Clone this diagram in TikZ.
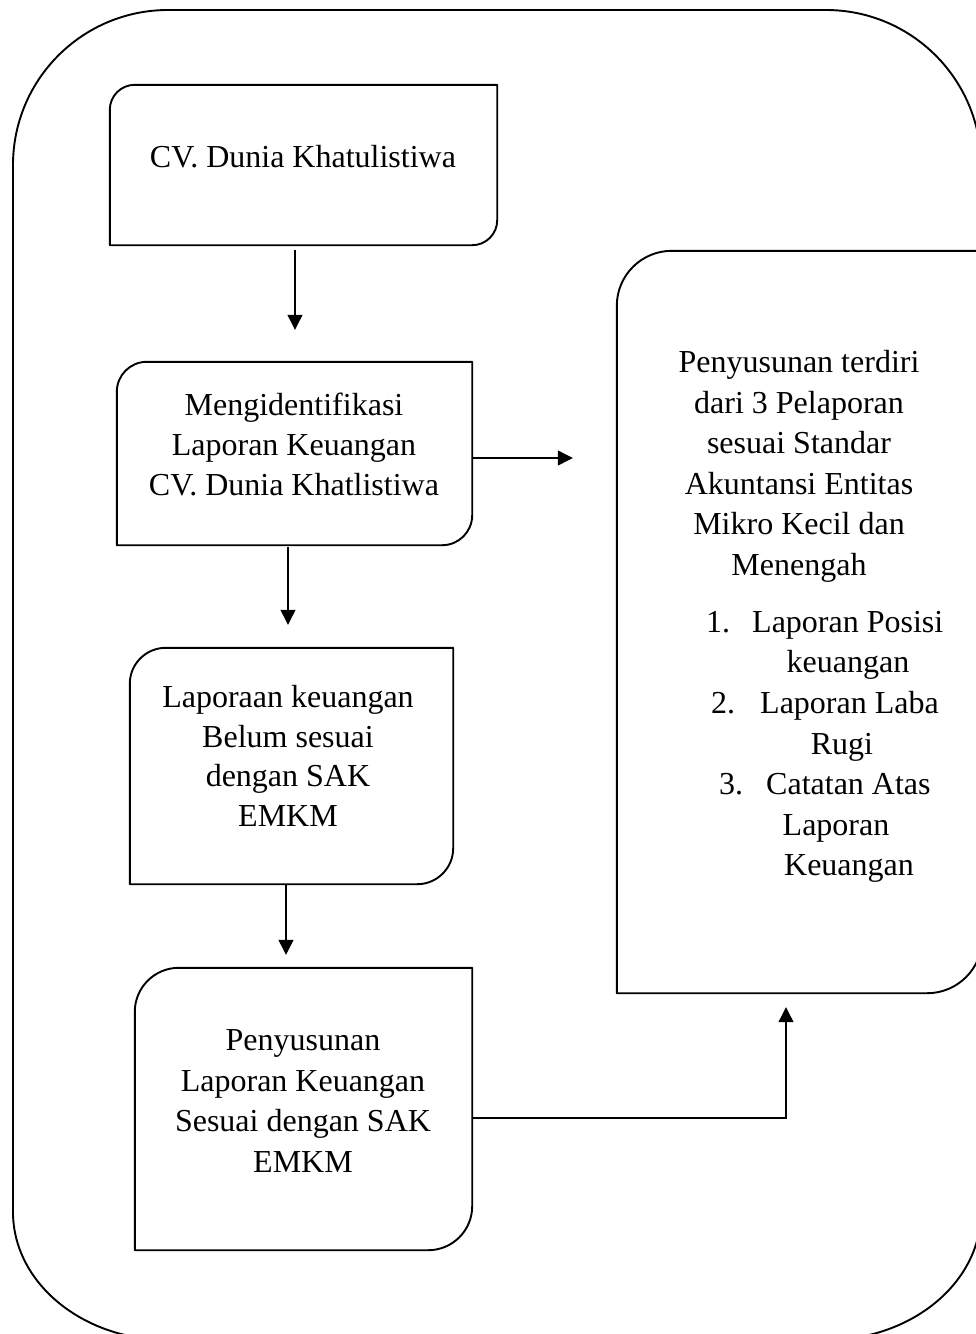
\documentclass[tikz,border=0pt]{standalone}
\usepackage{fontspec}
\setmainfont{Liberation Serif}
\usetikzlibrary{arrows.meta,calc}
\tikzset{
  boxnode/.style={draw=none,inner sep=0pt,minimum width=#1},
  boxline/.style={line width=1.9pt,line join=round},
  outerline/.style={line width=1.9pt},
  arr/.style={line width=1.2pt,-{Triangle[length=15pt,width=15pt]}},
  txt/.style={inner sep=0pt,anchor=base,font=\fontsize{32}{40}\selectfont},
}
\newcommand\diagoutline[2]{%
  \draw[boxline] (#1.south west) -- ([yshift=-#2]#1.north west)
    .. controls ([yshift=-0.448*#2]#1.north west) and ([xshift=0.448*#2]#1.north west) .. ([xshift=#2]#1.north west)
    -- (#1.north east) -- ([yshift=#2]#1.south east)
    .. controls ([yshift=0.448*#2]#1.south east) and ([xshift=-0.448*#2]#1.south east) .. ([xshift=-#2]#1.south east)
    -- cycle;}
\begin{document}
\begin{tikzpicture}[x=1pt,y=-1pt]
\useasboundingbox (0,0) rectangle (976,1334);
\clip (0,0) rectangle (976,1334);
\fill[white] (0,0) rectangle (976,1334);
% outer frame
\draw[outerline] (13,1212) -- (13,165)
  .. controls (13,79.4) and (82.4,10) .. (168,10)
  -- (826,10)
  .. controls (911.6,10) and (981,79.4) .. (981,165)
  -- (981,1212)
  .. controls (981,1282.7) and (911.6,1340) .. (826,1340)
  -- (168,1340)
  .. controls (82.4,1340) and (13,1282.7) .. (13,1212) -- cycle;
% boxes
\node[boxnode=387pt,minimum height=160pt] (b1) at (303.5,165) {};
\node[boxnode=355pt,minimum height=183pt] (b2) at (294.5,453.5) {};
\node[boxnode=323pt,minimum height=236pt] (b3) at (291.5,766) {};
\node[boxnode=337pt,minimum height=282pt] (b4) at (303.5,1109) {};
\node[boxnode=365pt,minimum height=742pt] (rb) at (799.5,622) {};
\diagoutline{b1}{25pt}
\diagoutline{b2}{30pt}
\diagoutline{b3}{36pt}
\diagoutline{b4}{44pt}
\diagoutline{rb}{55pt}
% texts
\node[txt] (t1) at (303,167) {CV. Dunia Khatulistiwa};
\node[txt] (t2a) at (294,415) {Mengidentifikasi};
\node[txt] (t2b) at (294,455) {Laporan Keuangan};
\node[txt] (t2c) at (294,495) {CV. Dunia Khatlistiwa};
\node[txt] (t3a) at (288,707) {Laporaan keuangan};
\node[txt] (t3b) at (288,747) {Belum sesuai};
\node[txt] (t3c) at (288,786) {dengan SAK};
\node[txt] (t3d) at (288,826) {EMKM};
\node[txt] (t4a) at (303,1050) {Penyusunan};
\node[txt] (t4b) at (303,1091) {Laporan Keuangan};
\node[txt] (t4c) at (303,1131) {Sesuai dengan SAK};
\node[txt] (t4d) at (303,1172) {EMKM};
\node[txt] (r1) at (799,372) {Penyusunan terdiri};
\node[txt] (r2) at (799,413) {dari 3 Pelaporan};
\node[txt] (r3) at (799,453) {sesuai Standar};
\node[txt] (r4) at (799,494) {Akuntansi Entitas};
\node[txt] (r5) at (799,534) {Mikro Kecil dan};
\node[txt] (r6) at (799,575) {Menengah};
\node[txt,anchor=base west] (n1) at (706,632) {1.};
\node[txt,anchor=base west] (l1) at (752,632) {Laporan Posisi};
\node[txt] (l1b) at (848,672) {keuangan};
\node[txt,anchor=base west] (n2) at (711,713) {2.};
\node[txt,anchor=base west] (l2) at (760,713) {Laporan Laba};
\node[txt] (l2b) at (842,754) {Rugi};
\node[txt,anchor=base west] (n3) at (719,794) {3.};
\node[txt,anchor=base west] (l3) at (766,794) {Catatan Atas};
\node[txt] (l3b) at (836,835) {Laporan};
\node[txt] (l3c) at (849,875) {Keuangan};
% connectors
\coordinate (x1) at (295,0);
\coordinate (x3) at (288,0);
\coordinate (x4) at (286,0);
\coordinate (y2) at (0,458);
\coordinate (c5) at (786,1118);
\draw[arr,shorten <=5pt,shorten >=32pt] (b1.south -| x1) -- (b2.north -| x1);
\draw[arr,shorten >=44pt] (b2.east |- y2) -- (rb.west |- y2);
\draw[arr,shorten <=2pt,shorten >=23pt] (b2.south -| x3) -- (b3.north -| x3);
\draw[arr,shorten >=13pt] (b3.south -| x4) -- (b4.north -| x4);
\draw[arr,shorten >=14pt] (b4.east |- c5) -| (rb.south -| c5);
\end{tikzpicture}
\end{document}
